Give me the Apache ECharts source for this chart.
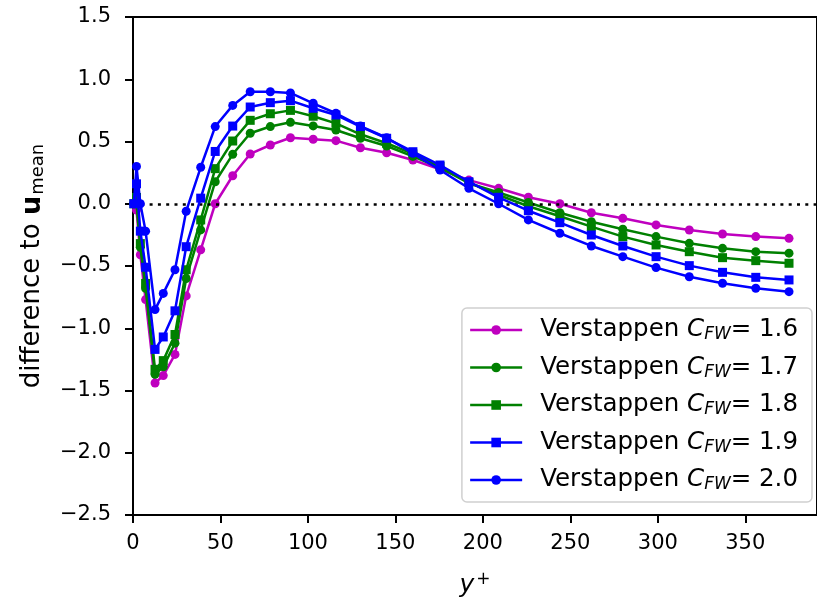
<!DOCTYPE html>
<html>
<head>
<meta charset="utf-8">
<script src="https://cdn.jsdelivr.net/npm/echarts@6/dist/echarts.min.js"></script>
<style>html,body{margin:0;padding:0;background:#fff}#c{width:817px;height:601px}</style>
</head>
<body>
<div id="c"></div>
<script>
// y+ positions
const yPlus = [0.5, 2, 4.2, 7.2, 12.6, 17.3, 24, 30.4, 38.7, 47, 57, 67, 78.5, 90, 103, 116, 130, 145, 160, 175.5, 192, 209, 226, 244, 262, 280, 299, 318, 337, 356, 375];
const cfw16 = [0.0, -0.05, -0.41, -0.77, -1.44, -1.38, -1.21, -0.74, -0.37, 0.0, 0.225, 0.40, 0.472, 0.53, 0.518, 0.507, 0.45, 0.41, 0.351, 0.277, 0.19, 0.124, 0.052, 0.0, -0.072, -0.117, -0.17, -0.211, -0.243, -0.264, -0.278];
const cfw17 = [0.0, 0.0, -0.35, -0.68, -1.37, -1.31, -1.12, -0.60, -0.21, 0.177, 0.397, 0.566, 0.62, 0.654, 0.625, 0.592, 0.526, 0.464, 0.38, 0.29, 0.165, 0.09, 0.01, -0.072, -0.144, -0.205, -0.264, -0.318, -0.358, -0.385, -0.397];
const cfw18 = [0.0, 0.05, -0.32, -0.64, -1.33, -1.26, -1.05, -0.53, -0.13, 0.282, 0.504, 0.67, 0.723, 0.75, 0.703, 0.646, 0.558, 0.486, 0.40, 0.30, 0.17, 0.07, -0.02, -0.10, -0.184, -0.264, -0.331, -0.385, -0.433, -0.457, -0.478];
const cfw19 = [0.0, 0.16, -0.22, -0.51, -1.17, -1.07, -0.86, -0.345, 0.045, 0.42, 0.624, 0.777, 0.812, 0.828, 0.767, 0.713, 0.62, 0.526, 0.418, 0.311, 0.177, 0.052, -0.056, -0.152, -0.251, -0.339, -0.425, -0.497, -0.551, -0.591, -0.612];
const cfw20 = [0.0, 0.30, 0.0, -0.22, -0.85, -0.72, -0.53, -0.06, 0.293, 0.62, 0.79, 0.90, 0.90, 0.89, 0.807, 0.727, 0.624, 0.53, 0.405, 0.271, 0.124, 0.0, -0.13, -0.237, -0.339, -0.425, -0.513, -0.586, -0.639, -0.679, -0.706];
const cfwLabels = ['1.6', '1.7', '1.8', '1.9', '2.0'];
const xTicks = [0, 50, 100, 150, 200, 250, 300, 350];

const FONT = 'DejaVu Sans';
const allData = [cfw16, cfw17, cfw18, cfw19, cfw20];
const colors = ['#bf00bf', '#008000', '#008000', '#0000ff', '#0000ff'];
const symbols = ['circle', 'circle', 'rect', 'rect', 'circle'];

const series = allData.map((vals, i) => ({
  name: 'Verstappen C_FW= ' + cfwLabels[i],
  type: 'line',
  data: yPlus.map((x, j) => [x, vals[j]]),
  symbol: symbols[i],
  symbolSize: 9,
  showSymbol: true,
  lineStyle: { color: colors[i], width: 2.5 },
  itemStyle: { color: colors[i], borderWidth: 0 },
  emphasis: { disabled: true },
  animation: false,
  z: 3 + i
}));
series.unshift({
  type: 'line', data: [], silent: true, animation: false,
  markLine: {
    silent: true, symbol: ['none', 'none'], label: { show: false },
    lineStyle: { color: '#000', type: [3, 5.3], width: 2.6 },
    data: [{ yAxis: 0 }]
  }
});

const chart = echarts.init(document.getElementById('c'), null, { renderer: 'canvas' });
chart.setOption({
  backgroundColor: '#fff',
  animation: false,
  textStyle: { fontFamily: FONT },
  grid: { left: 133, right: 0, top: 17, bottom: 86, outerBoundsMode: 'none', containLabel: false,
    show: true, borderColor: '#000', borderWidth: 2, backgroundColor: 'transparent' },
  xAxis: {
    type: 'value', min: 0, max: 391, interval: 50,
    axisLine: { show: true, onZero: false, lineStyle: { color: '#000', width: 2 } },
    axisTick: { show: true, inside: false, length: 8, lineStyle: { color: '#000', width: 2 } },
    axisLabel: { color: '#000', fontSize: 21, fontFamily: FONT, margin: 18, showMaxLabel: false,
      formatter: v => xTicks.includes(v) ? String(v) : '' },
    splitLine: { show: false },
    name: '{i|y}{s|+}', nameLocation: 'middle', nameGap: 56,
    nameTextStyle: { color: '#000', fontFamily: FONT, rich: {
      i: { fontSize: 25, fontStyle: 'italic', fontFamily: FONT, color: '#000' },
      s: { fontSize: 17, fontFamily: FONT, color: '#000', padding: [0, 0, 12, 2] } } }
  },
  yAxis: {
    type: 'value', min: -2.5, max: 1.5, interval: 0.5,
    axisLine: { show: true, onZero: false, lineStyle: { color: '#000', width: 2 } },
    axisTick: { show: true, inside: false, length: 8, lineStyle: { color: '#000', width: 2 } },
    axisLabel: { color: '#000', fontSize: 21, fontFamily: FONT, margin: 22,
      formatter: v => (v < 0 ? '\u2212' : '') + Math.abs(v).toFixed(1) },
    splitLine: { show: false },
    name: 'difference to {b|u}{sub|mean}', nameLocation: 'middle', nameRotate: 90, nameGap: 86,
    nameTextStyle: { color: '#000', fontSize: 26, fontFamily: FONT, rich: {
      b: { fontSize: 27, fontWeight: 'bold', fontFamily: FONT, color: '#000' },
      sub: { fontSize: 18, fontFamily: FONT, color: '#000', padding: [11, 0, 0, 1] } } }
  },
  legend: {
    orient: 'vertical', right: 5, bottom: 99,
    padding: [8, 14, 8, 7],
    itemGap: 9.5, itemWidth: 52, itemHeight: 12,
    lineStyle: { width: 2.5 },
    backgroundColor: '#fff', borderColor: '#d0d0d0', borderWidth: 1.5, borderRadius: 5,
    data: series.slice(1).map(s => s.name),
    formatter: name => 'Verstappen {i|C}{s|FW}= ' + name.split('= ')[1],
    textStyle: { color: '#000', fontSize: 24.5, fontFamily: FONT, lineHeight: 28, padding: [0, 0, 0, 13], rich: {
      i: { fontSize: 24.5, fontStyle: 'italic', fontFamily: FONT, color: '#000', lineHeight: 28 },
      s: { fontSize: 17, fontStyle: 'italic', fontFamily: FONT, color: '#000', lineHeight: 28, padding: [10, 0, 0, 0] } } }
  },
  series: series
});
</script>
</body>
</html>
